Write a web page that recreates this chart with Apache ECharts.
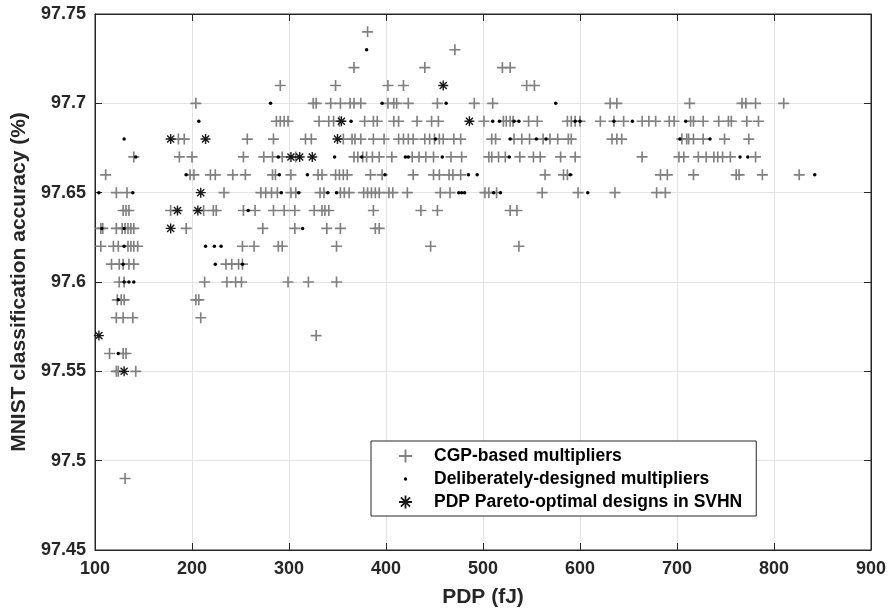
<!DOCTYPE html>
<html>
<head>
<meta charset="utf-8">
<script src="https://cdn.jsdelivr.net/npm/echarts@6/dist/echarts.min.js"></script>
<style>
  html, body { margin: 0; padding: 0; background: #fff; }
  #chart { width: 892px; height: 615px; }
</style>
</head>
<body>
<div id="chart"></div>
<script>
// accuracy rows (%) and the PDP values (fJ) found on each row
var accuracyLevels = [97.74, 97.73, 97.72, 97.71, 97.70, 97.69, 97.68, 97.67, 97.66, 97.65,
	97.64, 97.63, 97.62, 97.61, 97.60, 97.59, 97.58, 97.57, 97.56, 97.55, 97.49];

var cgpPdp = [
	[381],
	[471],
	[367, 440, 520, 528],
	[291, 348, 402, 418, 545, 553],
	[204, 325, 328, 343, 353, 363, 367, 374, 402, 408, 411, 423, 453, 491, 510, 631, 638, 713, 767, 771, 781, 810],
	[287, 291, 295, 299, 331, 341, 346, 352, 378, 387, 391, 408, 413, 432, 447, 454, 501, 521, 524, 528, 531, 547, 556,
		587, 591, 595, 600, 621, 635, 645, 664, 671, 678, 692, 697, 714, 717, 727, 743, 753, 756, 772, 784],
	[186, 192, 257, 284, 317, 323, 356, 365, 368, 374, 387, 398, 413, 418, 423, 428, 440, 445, 450, 455, 459, 470, 477,
		509, 513, 532, 540, 548, 562, 569, 577, 588, 591, 633, 638, 643, 705, 710, 712, 717, 727, 749, 774],
	[140, 187, 200, 253, 274, 283, 293, 307, 367, 371, 376, 380, 386, 393, 406, 427, 434, 441, 449, 467, 478, 506, 509,
		516, 523, 538, 552, 559, 580, 595, 664, 702, 707, 722, 730, 738, 742, 747, 755, 781],
	[111, 198, 202, 219, 224, 242, 255, 283, 286, 302, 330, 334, 348, 352, 356, 360, 384, 396, 428, 449, 455, 465, 469,
		477, 564, 583, 587, 683, 690, 717, 761, 764, 788, 826],
	[122, 133, 233, 271, 276, 282, 288, 302, 307, 332, 336, 353, 357, 362, 377, 381, 385, 389, 393, 403, 407, 422, 456,
		466, 502, 506, 514, 561, 598, 636, 679, 688],
	[129, 132, 135, 178, 212, 222, 225, 253, 265, 284, 295, 306, 326, 334, 337, 341, 387, 436, 453, 528, 535],
	[106, 108, 122, 128, 131, 134, 137, 140, 194, 273, 306, 339, 353, 389, 393],
	[106, 119, 124, 134, 137, 140, 144, 252, 264, 289, 293, 349, 446, 537],
	[117, 125, 129, 135, 140, 235, 241, 248, 252],
	[125, 130, 213, 236, 245, 251, 299, 320, 349],
	[123, 127, 130, 204, 207],
	[122, 129, 139, 209],
	[328],
	[115, 129, 132],
	[122, 124, 142],
	[131]
];

var deliberatePdp = [
	[], [380], [], [],
	[281, 396, 462, 575],
	[207, 364, 510, 517, 532, 537, 595, 600, 635, 654, 709],
	[130, 451, 528, 555, 565, 703, 734],
	[142, 289, 347, 375, 420, 423, 458, 527, 765, 773],
	[194, 290, 319, 399, 485, 494, 590, 842],
	[104, 139, 292, 310, 340, 349, 475, 478, 481, 511, 518, 608],
	[258],
	[107, 130, 314],
	[130, 214, 223, 230],
	[129, 224, 252],
	[130, 135, 140],
	[124],
	[], [],
	[124],
	[], []
];

var paretoPdp = [
	[], [], [],
	[459],
	[],
	[354, 486],
	[178, 214, 350],
	[302, 311, 324],
	[],
	[209],
	[185, 206],
	[178],
	[], [], [], [], [],
	[104],
	[],
	[130],
	[]
];

function toPoints(rows) {
	var pts = [];
	for (let i in rows) {
		for (let j in rows[i]) {
			pts.push([rows[i][j], accuracyLevels[i]]);
		}
	}
	return pts;
}

var plusPath = 'path://M0,4.25L10,4.25L10,5.75L0,5.75ZM4.25,0L5.75,0L5.75,10L4.25,10Z';
var starPath = 'path://M0,4.3L10,4.3L10,5.7L0,5.7ZM4.3,0L5.7,0L5.7,10L4.3,10Z' +
	'M1.96,0.97L9.03,8.04L8.04,9.03L0.97,1.96ZM8.04,0.97L9.03,1.96L1.96,9.03L0.97,8.04Z';
// small dot inside a 10x10 box so the legend keeps it small
var dotIcon = 'path://M0,0M10,10M5,3.7A1.3,1.3,0,1,1,5,6.3A1.3,1.3,0,1,1,5,3.7Z';

var axisColor = '#262626';
var labelFont = { fontFamily: 'Liberation Sans', fontWeight: 'bold', fontSize: 18, color: axisColor };
var nameFont = { fontFamily: 'Liberation Sans', fontWeight: 'bold', fontSize: 21, color: axisColor };

var chartDom = document.getElementById('chart');
var myChart = echarts.init(chartDom);
var option;

option = {
	animation: false,
	backgroundColor: '#fff',
	grid: {
		left: 95,
		right: 21,
		top: 14,
		bottom: 65,
		outerBoundsMode: 'none',
		show: true,
		borderColor: axisColor,
		borderWidth: 1
	},
	legend: {
		left: 371,
		top: 441,
		orient: 'vertical',
		selectedMode: false,
		itemWidth: 13,
		itemHeight: 13,
		itemGap: 5,
		padding: [6, 14, 5, 28],
		borderColor: axisColor,
		borderWidth: 1,
		backgroundColor: '#fff',
		textStyle: {
			fontFamily: 'Liberation Sans',
			fontWeight: 'bold',
			fontSize: 17.5,
			lineHeight: 17,
			color: '#000',
			padding: [0, 0, 0, 17]
		},
		data: [
			{ name: 'CGP-based multipliers', icon: plusPath, itemStyle: { color: '#808080' } },
			{ name: 'Deliberately-designed multipliers', icon: dotIcon, itemStyle: { color: '#000' } },
			{ name: 'PDP Pareto-optimal designs in SVHN', icon: starPath, itemStyle: { color: '#1a1a1a' } }
		]
	},
	xAxis: [
		{
			type: 'value',
			min: 100,
			max: 900,
			interval: 100,
			name: 'PDP (fJ)',
			nameLocation: 'middle',
			nameGap: 37,
			nameTextStyle: nameFont,
			axisLine: { show: true, onZero: false, lineStyle: { color: axisColor } },
			axisTick: { show: true, inside: true, length: 7, lineStyle: { color: axisColor } },
			axisLabel: Object.assign({ margin: 10 }, labelFont),
			splitLine: { show: true, lineStyle: { color: '#e3e3e3' } }
		},
		{
			type: 'value',
			position: 'top',
			min: 100,
			max: 900,
			interval: 100,
			axisLine: { show: true, onZero: false, lineStyle: { color: axisColor } },
			axisTick: { show: true, inside: true, length: 7, lineStyle: { color: axisColor } },
			axisLabel: { show: false },
			splitLine: { show: false }
		}
	],
	yAxis: [
		{
			type: 'value',
			min: 97.45,
			max: 97.75,
			interval: 0.05,
			name: 'MNIST classification accuracy (%)',
			nameLocation: 'middle',
			nameGap: 63,
			nameTextStyle: nameFont,
			axisLine: { show: true, onZero: false, lineStyle: { color: axisColor } },
			axisTick: { show: true, inside: true, length: 7, lineStyle: { color: axisColor } },
			axisLabel: Object.assign({
				margin: 9,
				formatter: function (v) { return String(+v.toFixed(2)); }
			}, labelFont),
			splitLine: { show: true, lineStyle: { color: '#e3e3e3' } }
		},
		{
			type: 'value',
			position: 'right',
			min: 97.45,
			max: 97.75,
			interval: 0.05,
			axisLine: { show: true, onZero: false, lineStyle: { color: axisColor } },
			axisTick: { show: true, inside: true, length: 7, lineStyle: { color: axisColor } },
			axisLabel: { show: false },
			splitLine: { show: false }
		}
	],
	series: [
		{
			name: 'CGP-based multipliers',
			type: 'scatter',
			symbol: plusPath,
			symbolSize: 11,
			itemStyle: { color: '#808080', opacity: 1 },
			data: toPoints(cgpPdp)
		},
		{
			name: 'Deliberately-designed multipliers',
			type: 'scatter',
			symbol: 'circle',
			symbolSize: 3.5,
			itemStyle: { color: '#000', opacity: 1 },
			data: toPoints(deliberatePdp)
		},
		{
			name: 'PDP Pareto-optimal designs in SVHN',
			type: 'scatter',
			symbol: starPath,
			symbolSize: 10,
			itemStyle: { color: '#1a1a1a', opacity: 1 },
			data: toPoints(paretoPdp)
		}
	]
};

option && myChart.setOption(option);
</script>
</body>
</html>
